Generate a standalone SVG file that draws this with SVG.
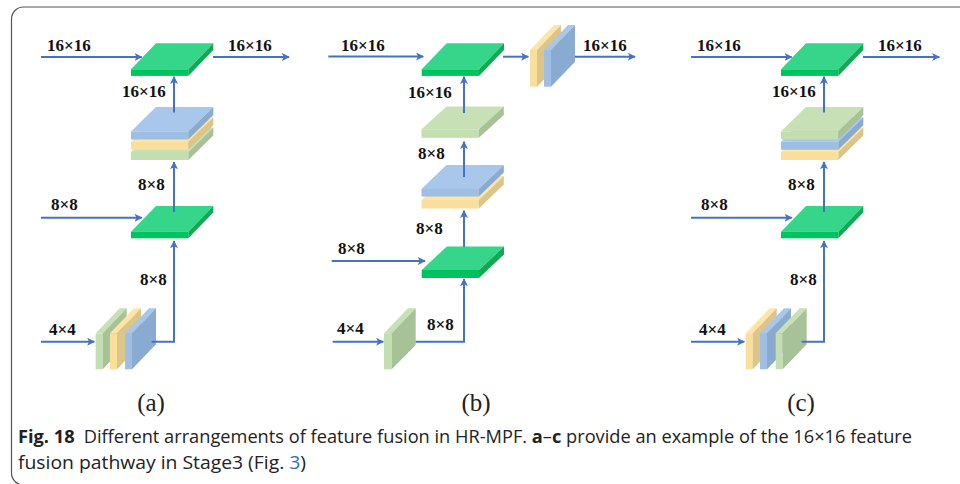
<svg xmlns="http://www.w3.org/2000/svg" width="960" height="484" viewBox="0 0 960 484">
  <defs>
    <marker id="ah" viewBox="0 0 10 10" refX="9" refY="5" markerWidth="8" markerHeight="8" markerUnits="userSpaceOnUse" orient="auto">
      <path d="M0,0 L10,5 L0,10 L2.5,5 Z" fill="#4472C4"/>
    </marker>
    <style>
      .frame { fill: none; stroke: #555; stroke-width: 1.2; }
      .lbl { font-family: "Liberation Serif", "Times New Roman", serif; font-weight: bold; font-size: 17px; fill: #111; }
      .sub { font-family: "Liberation Serif", "Times New Roman", serif; font-size: 25px; fill: #222; text-anchor: middle; }
      .cap { font-family: "Open Sans", "Noto Sans", sans-serif; font-size: 18px; fill: #222; }
      .b { font-weight: bold; }
      .link { fill: #2A6EBB; }
      .conn path { fill: none; stroke: #4472C4; stroke-width: 2; marker-end: url(#ah); }
      .conn path.plain { marker-end: none; }
      /* fused (dark green) slab */
      .gT { fill: #36D68A; } .gF { fill: #00C35F; } .gS { fill: #12A954; }
      /* light green feature */
      .lgT { fill: #C7E0B5; } .lgF { fill: #C3DEB0; } .lgS { fill: #A7C296; }
      /* blue feature */
      .blT { fill: #A9C7EA; } .blF { fill: #9EBEE3; } .blS { fill: #8AABD1; }
      /* yellow feature */
      .yT { fill: #FCE5A6; } .yF { fill: #FADF9C; } .yS { fill: #DCC587; }
    </style>
  </defs>

  <rect class="frame" x="11.5" y="7" width="1000" height="478" rx="12" ry="12"/>

  <!-- ===== (a) ===== -->
  <g id="a-fuse-top">
    <path class="gT" d="M131,69.3 H188.3 L213.3,43.3 H156 Z"/>
    <rect class="gF" x="131" y="69.3" width="57.3" height="6.6"/>
    <path class="gS" d="M188.3,69.3 L213.3,43.3 V49.9 L188.3,75.9 Z"/>
  </g>
  <g id="a-stack">
    <path class="lgT" d="M131,152 H188.3 L213.3,127.5 H156 Z"/>
    <rect class="lgF" x="131" y="152" width="57.3" height="8"/>
    <path class="lgS" d="M188.3,152 L213.3,127.5 V135.5 L188.3,160 Z"/>
    <path class="yT" d="M131,141.8 H188.3 L213.3,117.3 H156 Z"/>
    <rect class="yF" x="131" y="141.8" width="57.3" height="8"/>
    <path class="yS" d="M188.3,141.8 L213.3,117.3 V125.3 L188.3,149.8 Z"/>
    <path class="blT" d="M131,131.5 H188.3 L213.3,107 H156 Z"/>
    <rect class="blF" x="131" y="131.5" width="57.3" height="8"/>
    <path class="blS" d="M188.3,131.5 L213.3,107 V115 L188.3,139.5 Z"/>
  </g>
  <g id="a-fuse-mid">
    <path class="gT" d="M131,231.7 H188.3 L213.3,206 H156 Z"/>
    <rect class="gF" x="131" y="231.7" width="57.3" height="6.6"/>
    <path class="gS" d="M188.3,231.7 L213.3,206 V212.6 L188.3,238.3 Z"/>
  </g>
  <g id="a-panels">
    <path class="lgT" d="M95.7,333.3 L119.7,308.3 H126.7 L102.7,333.3 Z"/>
    <rect class="lgF" x="95.7" y="333.3" width="7" height="36"/>
    <path class="lgS" d="M102.7,333.3 L126.7,308.3 V344.3 L102.7,369.3 Z"/>
    <path class="yT" d="M110,333.3 L134,308.3 H141 L117,333.3 Z"/>
    <rect class="yF" x="110" y="333.3" width="7" height="36"/>
    <path class="yS" d="M117,333.3 L141,308.3 V344.3 L117,369.3 Z"/>
    <path class="blT" d="M125,333.3 L149,308.3 H156 L132,333.3 Z"/>
    <rect class="blF" x="125" y="333.3" width="7" height="36"/>
    <path class="blS" d="M132,333.3 L156,308.3 V344.3 L132,369.3 Z"/>
  </g>

  <!-- ===== (b) ===== -->
  <g id="b-fuse-top">
    <path class="gT" d="M421.7,69.3 H479 L504,43.3 H446.7 Z"/>
    <rect class="gF" x="421.7" y="69.3" width="57.3" height="6.6"/>
    <path class="gS" d="M479,69.3 L504,43.3 V49.9 L479,75.9 Z"/>
  </g>
  <g id="b-out-panels">
    <path class="yT" d="M530,50 L554,25 H561 L537,50 Z"/>
    <rect class="yF" x="530" y="50" width="7" height="36.7"/>
    <path class="yS" d="M537,50 L561,25 V61.7 L537,86.7 Z"/>
    <path class="blT" d="M544,50 L568,25 H575 L551,50 Z"/>
    <rect class="blF" x="544" y="50" width="7" height="36.7"/>
    <path class="blS" d="M551,50 L575,25 V61.7 L551,86.7 Z"/>
  </g>
  <g id="b-green">
    <path class="lgT" d="M421.5,129.3 H478.8 L503.8,106.5 H446.5 Z"/>
    <rect class="lgF" x="421.5" y="129.3" width="57.3" height="8.5"/>
    <path class="lgS" d="M478.8,129.3 L503.8,106.5 V115 L478.8,137.8 Z"/>
  </g>
  <g id="b-stack">
    <path class="yT" d="M421.5,200 H478.8 L503.8,176 H446.5 Z"/>
    <rect class="yF" x="421.5" y="200" width="57.3" height="8.5"/>
    <path class="yS" d="M478.8,200 L503.8,176 V184.5 L478.8,208.5 Z"/>
    <path class="blT" d="M421.5,189 H478.8 L503.8,165 H446.5 Z"/>
    <rect class="blF" x="421.5" y="189" width="57.3" height="7.5"/>
    <path class="blS" d="M478.8,189 L503.8,165 V172.5 L478.8,196.5 Z"/>
  </g>
  <g id="b-fuse-mid">
    <path class="gT" d="M421.7,270 H479 L504,246.5 H446.7 Z"/>
    <rect class="gF" x="421.7" y="270" width="57.3" height="8"/>
    <path class="gS" d="M479,270 L504,246.5 V254.5 L479,278 Z"/>
  </g>
  <g id="b-panel">
    <path class="lgT" d="M384,333.3 L408,308.3 H415.7 L391.7,333.3 Z"/>
    <rect class="lgF" x="384" y="333.3" width="7.7" height="36"/>
    <path class="lgS" d="M391.7,333.3 L415.7,308.3 V345 L391.7,369.3 Z"/>
  </g>

  <!-- ===== (c) ===== -->
  <g id="c-fuse-top">
    <path class="gT" d="M781,69.3 H838.3 L863.3,43.3 H806 Z"/>
    <rect class="gF" x="781" y="69.3" width="57.3" height="6.6"/>
    <path class="gS" d="M838.3,69.3 L863.3,43.3 V49.9 L838.3,75.9 Z"/>
  </g>
  <g id="c-stack">
    <path class="yT" d="M781,152 H838.3 L863.3,127.5 H806 Z"/>
    <rect class="yF" x="781" y="152" width="57.3" height="8"/>
    <path class="yS" d="M838.3,152 L863.3,127.5 V135.5 L838.3,160 Z"/>
    <path class="blT" d="M781,141.8 H838.3 L863.3,117.3 H806 Z"/>
    <rect class="blF" x="781" y="141.8" width="57.3" height="8"/>
    <path class="blS" d="M838.3,141.8 L863.3,117.3 V125.3 L838.3,149.8 Z"/>
    <path class="lgT" d="M781,131.5 H838.3 L863.3,107 H806 Z"/>
    <rect class="lgF" x="781" y="131.5" width="57.3" height="8"/>
    <path class="lgS" d="M838.3,131.5 L863.3,107 V115 L838.3,139.5 Z"/>
  </g>
  <g id="c-fuse-mid">
    <path class="gT" d="M781,231.7 H838.3 L863.3,206 H806 Z"/>
    <rect class="gF" x="781" y="231.7" width="57.3" height="6.6"/>
    <path class="gS" d="M838.3,231.7 L863.3,206 V212.6 L838.3,238.3 Z"/>
  </g>
  <g id="c-panels">
    <path class="yT" d="M745.7,333.3 L769.7,308.3 H776.7 L752.7,333.3 Z"/>
    <rect class="yF" x="745.7" y="333.3" width="7" height="36"/>
    <path class="yS" d="M752.7,333.3 L776.7,308.3 V344.3 L752.7,369.3 Z"/>
    <path class="blT" d="M760,333.3 L784,308.3 H791 L767,333.3 Z"/>
    <rect class="blF" x="760" y="333.3" width="7" height="36"/>
    <path class="blS" d="M767,333.3 L791,308.3 V344.3 L767,369.3 Z"/>
    <path class="lgT" d="M775.7,333.3 L799.7,308.3 H806.7 L782.7,333.3 Z"/>
    <rect class="lgF" x="775.7" y="333.3" width="7" height="36"/>
    <path class="lgS" d="M782.7,333.3 L806.7,308.3 V344.3 L782.7,369.3 Z"/>
  </g>

  <!-- connectors -->
  <g id="connectors" class="conn">
    <!-- (a) -->
    <path d="M41,57 H141.7"/>
    <path d="M213,57 H289"/>
    <path d="M174,112.5 V76.7"/>
    <path d="M174,212 V162"/>
    <path d="M41,217.7 H141.7"/>
    <path d="M151.7,341.7 H174 V241"/>
    <path d="M41,341.7 H94.3"/>
    <!-- (b) -->
    <path d="M328.3,56.5 H423.3"/>
    <path d="M503,56.7 H528.3"/>
    <path d="M575,56.7 H635"/>
    <path d="M464,113 V76.7"/>
    <path d="M464,177 V141.7"/>
    <path d="M464,247 V210.7"/>
    <path d="M331.7,261 H425"/>
    <path d="M415.7,341.7 H464 V279"/>
    <path d="M332.7,341.7 H383.3"/>
    <!-- (c) -->
    <path d="M691,57 H791.7"/>
    <path d="M863,57 H939.3"/>
    <path d="M824,112.5 V76.7"/>
    <path d="M824,212 V162"/>
    <path d="M691,217.7 H791.7"/>
    <path d="M801.7,341.7 H824 V241"/>
    <path d="M691,341.7 H744.3"/>
  </g>

  <!-- size labels -->
  <g id="labels">
    <text class="lbl" x="47" y="51">16×16</text>
    <text class="lbl" x="228" y="51">16×16</text>
    <text class="lbl" x="122" y="97">16×16</text>
    <text class="lbl" x="138" y="190">8×8</text>
    <text class="lbl" x="51" y="210">8×8</text>
    <text class="lbl" x="140" y="285">8×8</text>
    <text class="lbl" x="49" y="335">4×4</text>

    <text class="lbl" x="341" y="51">16×16</text>
    <text class="lbl" x="583" y="51">16×16</text>
    <text class="lbl" x="408" y="98">16×16</text>
    <text class="lbl" x="418" y="159">8×8</text>
    <text class="lbl" x="416" y="234">8×8</text>
    <text class="lbl" x="338" y="254">8×8</text>
    <text class="lbl" x="427" y="330">8×8</text>
    <text class="lbl" x="337" y="334">4×4</text>

    <text class="lbl" x="697" y="51">16×16</text>
    <text class="lbl" x="878" y="51">16×16</text>
    <text class="lbl" x="772" y="97">16×16</text>
    <text class="lbl" x="788" y="190">8×8</text>
    <text class="lbl" x="701" y="210">8×8</text>
    <text class="lbl" x="790" y="285">8×8</text>
    <text class="lbl" x="699" y="335">4×4</text>
  </g>

  <text class="sub" x="151" y="411">(a)</text>
  <text class="sub" x="476" y="411">(b)</text>
  <text class="sub" x="801" y="411">(c)</text>

  <text class="cap" x="18" y="443" textLength="894" lengthAdjust="spacingAndGlyphs"><tspan class="b">Fig. 18</tspan><tspan dx="9">Different arrangements of feature fusion in HR-MPF. </tspan><tspan class="b">a</tspan>–<tspan class="b">c</tspan> provide an example of the 16×16 feature</text>
  <text class="cap" x="18" y="469" textLength="288" lengthAdjust="spacingAndGlyphs">fusion pathway in Stage3 (Fig. <tspan class="link">3</tspan>)</text>
</svg>
